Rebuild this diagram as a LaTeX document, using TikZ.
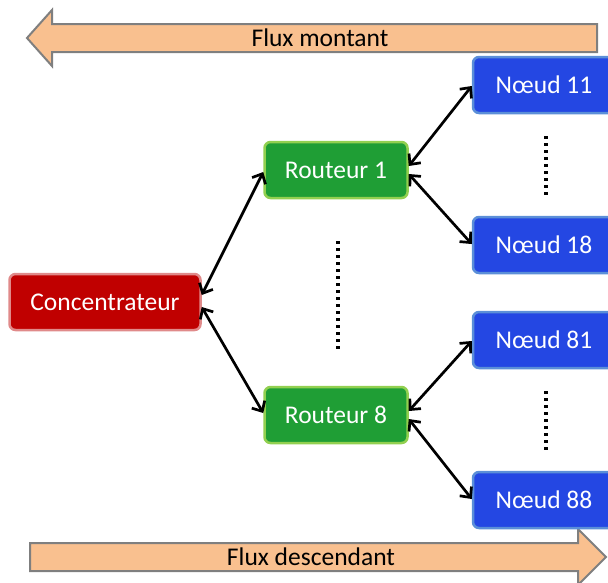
\documentclass[tikz,border=0pt]{standalone}
\usepackage{fontspec}
\setmainfont{Carlito}
\usetikzlibrary{arrows.meta}
\definecolor{peach}{HTML}{F9C08F}
\definecolor{arrgray}{HTML}{7F7F7F}
\definecolor{redfill}{HTML}{C00000}
\definecolor{redline}{HTML}{E08A8A}
\definecolor{greenfill}{HTML}{1F9E35}
\definecolor{greenline}{HTML}{92D050}
\definecolor{bluefill}{HTML}{2447E3}
\definecolor{blueline}{HTML}{5B8FD8}
\tikzset{
  box/.style={rounded corners=6pt, line width=2.5pt, minimum height=56pt,
    text=white, font=\fontsize{25.5}{28}\selectfont, inner sep=0pt},
  concbox/.style={box, fill=redfill, draw=redline, minimum width=191pt},
  routbox/.style={box, fill=greenfill, draw=greenline, minimum width=143pt},
  noeudbox/.style={box, fill=bluefill, draw=blueline, minimum width=142pt},
  link/.style={line width=2.7pt, {Straight Barb[length=8pt,width=15pt]}-{Straight Barb[length=8pt,width=15pt]}},
  dots/.style={line width=3.2pt, dash pattern=on 3pt off 4pt},
  flux/.style={fill=peach, draw=arrgray, line width=2pt, line join=miter},
  fluxtext/.style={font=\fontsize{25.5}{28}\selectfont, inner sep=0pt}
}
\begin{document}
\begin{tikzpicture}[x=1pt,y=-1pt]
\useasboundingbox (0,0) rectangle (608,582);
\clip (0,0) rectangle (608,582);
% flux arrows
\draw[flux] (597,24) -- (52,24) -- (52,10) -- (27,38) -- (52,66) -- (52,52) -- (597,52) -- cycle;
\node[fluxtext] (fm) at (320,38) {Flux montant};
\draw[flux] (30,543) -- (578,543) -- (578,529) -- (606,557) -- (578,585) -- (578,571) -- (30,571) -- cycle;
\node[fluxtext] (fd) at (311,557) {Flux descendant};
% nodes
\node[concbox] (conc) at (105,302) {Concentrateur};
\node[routbox] (r1) at (336,170) {Routeur 1};
\node[routbox] (r8) at (336,415) {Routeur 8};
\node[noeudbox] (n11) at (544,85) {Nœud 11};
\node[noeudbox] (n18) at (544,245) {Nœud 18};
\node[noeudbox] (n81) at (544,340) {Nœud 81};
\node[noeudbox] (n88) at (544,500) {Nœud 88};
% connectors
\draw[link] ([yshift=7pt]conc.east) -- ([yshift=-2pt]r1.west);
\draw[link] ([yshift=-5pt]conc.east) -- ([yshift=2pt]r8.west);
\draw[link] ([yshift=4pt]r1.east) -- ([yshift=-1pt]n11.west);
\draw[link] ([yshift=-4pt]r1.east) -- ([yshift=1pt]n18.west);
\draw[link] ([yshift=4pt]r8.east) -- ([yshift=-1pt]n81.west);
\draw[link] ([yshift=-4pt]r8.east) -- ([yshift=1pt]n88.west);
% dotted ellipses
\coordinate (d1a) at (338,241); \coordinate (d1b) at (338,350);
\coordinate (d2a) at (546,136); \coordinate (d2b) at (546,196);
\coordinate (d3a) at (546,391); \coordinate (d3b) at (546,451);
\draw[dots] (d1a) -- (d1b);
\draw[dots] (d2a) -- (d2b);
\draw[dots] (d3a) -- (d3b);
\end{tikzpicture}
\end{document}
